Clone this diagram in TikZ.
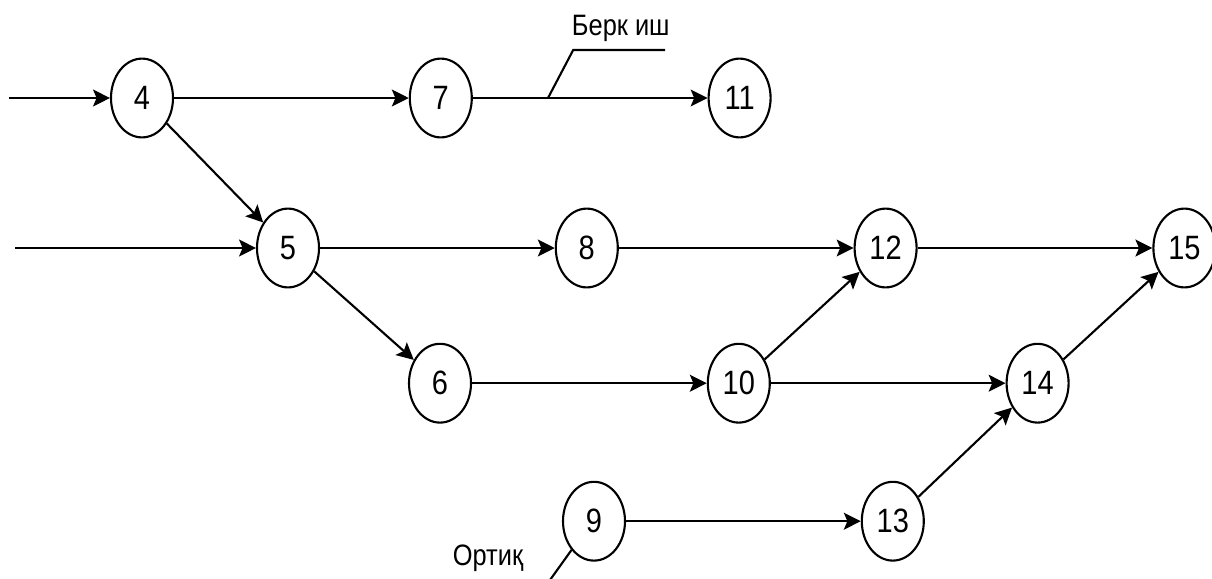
\documentclass[tikz,border=0pt]{standalone}
\usepackage{fontspec}
\setmainfont{Liberation Sans}[FakeStretch=0.86]
\usepackage{tikz}
\usetikzlibrary{arrows.meta, shapes.geometric, positioning}
\tikzset{event/.style={draw, ellipse, line width=1.5pt, minimum width=1.55cm, minimum height=1.97cm, inner sep=0pt, font=\fontsize{24}{27}\selectfont}}
\tikzset{lbl/.style={font=\fontsize{21}{24}\selectfont, inner sep=0pt}}

\begin{document}
\begin{tikzpicture}[>={Stealth[length=12pt, width=12pt, inset=2.5pt]}, line width=1.5pt, node distance=7.47cm]
\useasboundingbox (0,0) rectangle (30.3,-14.45);
\node[event] at (3.55,-2.45) (q4) {4};
\node[event, right of =q4] (q7) {7};
\node[event, right of =q7] (q11) {11};
\node[event] at (7.2,-6.2) (q5) {5};
\node[event, right of =q5] (q8) {8};
\node[event, right of =q8] (q12) {12};
\node[event, right of =q12] (q15) {15};
\node[event] at (11.0,-9.58) (q6) {6};
\node[event, right of =q6] (q10) {10};
\node[event, right of =q10] (q14) {14};
\node[event] at (14.85,-13.03) (q9) {9};
\node[event, right of =q9] (q13) {13};
\coordinate (in4) at (0.22,-2.45);
\coordinate (in5) at (0.38,-6.2);
\draw [->] (in4) -- (q4);
\draw [->] (in5) -- (q5);
\draw [->] (q4) -- (q7);
\draw [->] (q7) -- (q11);
\draw [->] (q4) -- (q5);
\draw [->] (q5) -- (q8);
\draw [->] (q8) -- (q12);
\draw [->] (q12) -- (q15);
\draw [->] (q5) -- (q6);
\draw [->] (q6) -- (q10);
\draw [->] (q10) -- (q12);
\draw [->] (q10) -- (q14);
\draw [->] (q14) -- (q15);
\draw [->] (q9) -- (q13);
\draw [->] (q13) -- (q14);
% labels
\node[lbl] at (15.52,-0.7) (berk) {Берк иш};
\coordinate (b1) at (13.7,-2.45);
\coordinate (b2) at (14.33,-1.25);
\coordinate (b3) at (16.63,-1.25);
\draw (b1) -- (b2) -- (b3);
\node[lbl] at (12.2,-13.95) (ortiq) {Ортиқ};
\coordinate (o1) at (13.75,-14.5);
\draw (q9.232) -- (o1);
\end{tikzpicture}
\end{document}
